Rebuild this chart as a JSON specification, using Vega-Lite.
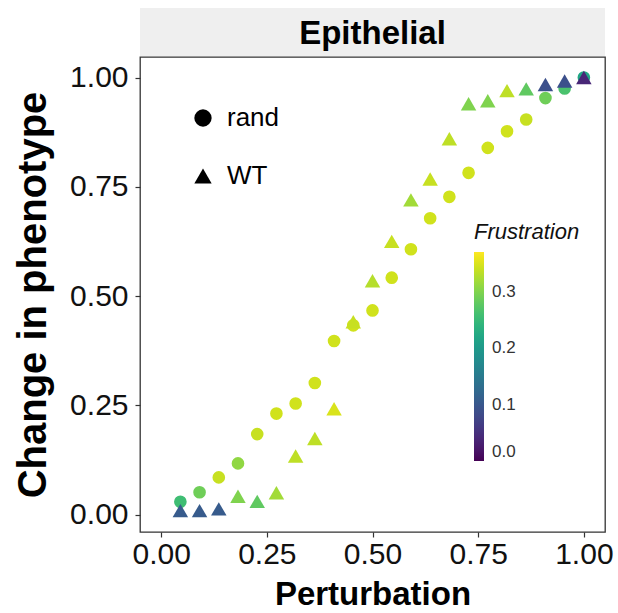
{
  "$schema": "https://vega.github.io/schema/vega-lite/v6.json",
  "padding": {"left": 12, "top": 8, "right": 10, "bottom": 2},
  "spacing": 0,
  "config": {
    "font": "Liberation Sans",
    "axis": {"grid": false, "domain": false, "tickColor": "#333333", "tickWidth": 1.2, "tickSize": 5, "labelColor": "#111111", "titleColor": "#000000", "labelFont": "Liberation Sans", "titleFont": "Liberation Sans"},
    "legend": {"labelFont": "Liberation Sans", "titleFont": "Liberation Sans"}
  },
  "datasets": {
    "strip": [{"panel": "Epithelial"}],
    "points": [
      {"Perturbation": 0.0455, "Change": 0.029, "type": "rand", "Frustration": 0.256},
      {"Perturbation": 0.0909, "Change": 0.051, "type": "rand", "Frustration": 0.29},
      {"Perturbation": 0.1364, "Change": 0.085, "type": "rand", "Frustration": 0.34},
      {"Perturbation": 0.1818, "Change": 0.117, "type": "rand", "Frustration": 0.31},
      {"Perturbation": 0.2273, "Change": 0.184, "type": "rand", "Frustration": 0.34},
      {"Perturbation": 0.2727, "Change": 0.231, "type": "rand", "Frustration": 0.345},
      {"Perturbation": 0.3182, "Change": 0.254, "type": "rand", "Frustration": 0.345},
      {"Perturbation": 0.3636, "Change": 0.301, "type": "rand", "Frustration": 0.345},
      {"Perturbation": 0.4091, "Change": 0.397, "type": "rand", "Frustration": 0.345},
      {"Perturbation": 0.4545, "Change": 0.433, "type": "rand", "Frustration": 0.345},
      {"Perturbation": 0.5, "Change": 0.467, "type": "rand", "Frustration": 0.345},
      {"Perturbation": 0.5455, "Change": 0.542, "type": "rand", "Frustration": 0.345},
      {"Perturbation": 0.5909, "Change": 0.607, "type": "rand", "Frustration": 0.345},
      {"Perturbation": 0.6364, "Change": 0.678, "type": "rand", "Frustration": 0.345},
      {"Perturbation": 0.6818, "Change": 0.727, "type": "rand", "Frustration": 0.345},
      {"Perturbation": 0.7273, "Change": 0.782, "type": "rand", "Frustration": 0.345},
      {"Perturbation": 0.7727, "Change": 0.839, "type": "rand", "Frustration": 0.345},
      {"Perturbation": 0.8182, "Change": 0.877, "type": "rand", "Frustration": 0.345},
      {"Perturbation": 0.8636, "Change": 0.904, "type": "rand", "Frustration": 0.34},
      {"Perturbation": 0.9091, "Change": 0.953, "type": "rand", "Frustration": 0.29},
      {"Perturbation": 0.9545, "Change": 0.975, "type": "rand", "Frustration": 0.265},
      {"Perturbation": 1.0, "Change": 1.0, "type": "rand", "Frustration": 0.22},
      {"Perturbation": 0.0455, "Change": 0.009, "type": "WT", "Frustration": 0.105},
      {"Perturbation": 0.0909, "Change": 0.009, "type": "WT", "Frustration": 0.105},
      {"Perturbation": 0.1364, "Change": 0.013, "type": "WT", "Frustration": 0.105},
      {"Perturbation": 0.1818, "Change": 0.042, "type": "WT", "Frustration": 0.3},
      {"Perturbation": 0.2273, "Change": 0.03, "type": "WT", "Frustration": 0.28},
      {"Perturbation": 0.2727, "Change": 0.05, "type": "WT", "Frustration": 0.32},
      {"Perturbation": 0.3182, "Change": 0.134, "type": "WT", "Frustration": 0.335},
      {"Perturbation": 0.3636, "Change": 0.174, "type": "WT", "Frustration": 0.335},
      {"Perturbation": 0.4091, "Change": 0.242, "type": "WT", "Frustration": 0.35},
      {"Perturbation": 0.4545, "Change": 0.441, "type": "WT", "Frustration": 0.34},
      {"Perturbation": 0.5, "Change": 0.535, "type": "WT", "Frustration": 0.33},
      {"Perturbation": 0.5455, "Change": 0.625, "type": "WT", "Frustration": 0.34},
      {"Perturbation": 0.5909, "Change": 0.72, "type": "WT", "Frustration": 0.32},
      {"Perturbation": 0.6364, "Change": 0.768, "type": "WT", "Frustration": 0.34},
      {"Perturbation": 0.6818, "Change": 0.86, "type": "WT", "Frustration": 0.335},
      {"Perturbation": 0.7273, "Change": 0.94, "type": "WT", "Frustration": 0.3},
      {"Perturbation": 0.7727, "Change": 0.947, "type": "WT", "Frustration": 0.3},
      {"Perturbation": 0.8182, "Change": 0.97, "type": "WT", "Frustration": 0.335},
      {"Perturbation": 0.8636, "Change": 0.974, "type": "WT", "Frustration": 0.28},
      {"Perturbation": 0.9091, "Change": 0.984, "type": "WT", "Frustration": 0.09},
      {"Perturbation": 0.9545, "Change": 0.992, "type": "WT", "Frustration": 0.09},
      {"Perturbation": 1.0, "Change": 1.0, "type": "WT", "Frustration": 0.04}
    ]
  },
  "vconcat": [
    {
      "width": 465,
      "height": 48,
      "data": {"name": "strip"},
      "view": {"fill": "#efefef", "stroke": null},
      "mark": {"type": "text", "fontSize": 33, "fontWeight": "bold", "align": "center", "baseline": "middle", "color": "#000000", "dy": 2},
      "encoding": {"text": {"field": "panel"}}
    },
    {
      "width": 465,
      "height": 475,
      "data": {"name": "points"},
      "view": {"stroke": "#333333", "strokeWidth": 1.3},
      "encoding": {
        "x": {"field": "Perturbation", "type": "quantitative", "title": "Perturbation",
              "scale": {"domain": [-0.05, 1.05], "nice": false, "zero": false},
              "axis": {"values": [0, 0.25, 0.5, 0.75, 1], "format": ".2f", "labelFontSize": 30, "labelPadding": 2, "titleFontSize": 33, "titleFontWeight": "bold", "titlePadding": 9}},
        "y": {"field": "Change", "type": "quantitative", "title": "Change in phenotype",
              "scale": {"domain": [-0.04, 1.047], "nice": false, "zero": false},
              "axis": {"values": [0, 0.25, 0.5, 0.75, 1], "format": ".2f", "labelFontSize": 30, "labelPadding": 7, "titleFontSize": 40, "titleFontWeight": "bold", "titlePadding": 16}},
        "color": {"field": "Frustration", "type": "quantitative",
                  "scale": {"scheme": "viridis", "domain": [0, 0.371], "nice": false, "zero": false},
                  "legend": {"orient": "none", "legendX": 334, "legendY": 214, "title": "Frustration", "titleFontStyle": "italic", "titleFontWeight": "normal", "titleFontSize": 22, "titleColor": "#111111", "titlePadding": 8, "gradientLength": 209, "gradientThickness": 10, "gradientStrokeWidth": 0, "direction": "vertical", "labelFontSize": 17, "labelColor": "#333333", "labelOffset": 8, "values": [0, 0.1, 0.2, 0.3], "format": ".1f", "labelBaseline": "middle", "padding": 0}},
        "shape": {"field": "type", "type": "nominal",
                  "scale": {"domain": ["rand", "WT"], "range": ["circle", "triangle-up"]},
                  "legend": {"orient": "none", "legendX": 50, "legendY": 97, "title": null, "labelFontSize": 26, "labelColor": "#000000", "symbolSize": 300, "symbolFillColor": "#000000", "symbolStrokeColor": "#000000", "symbolStrokeWidth": 0, "labelOffset": 11, "rowPadding": 32, "padding": 0}}
      },
      "layer": [
        {"transform": [{"filter": "datum.type === 'rand'"}], "mark": {"type": "point", "filled": true, "opacity": 1, "size": 160}},
        {"transform": [{"filter": "datum.type === 'WT'"}], "mark": {"type": "point", "filled": true, "opacity": 1, "size": 240}}
      ]
    }
  ]
}
